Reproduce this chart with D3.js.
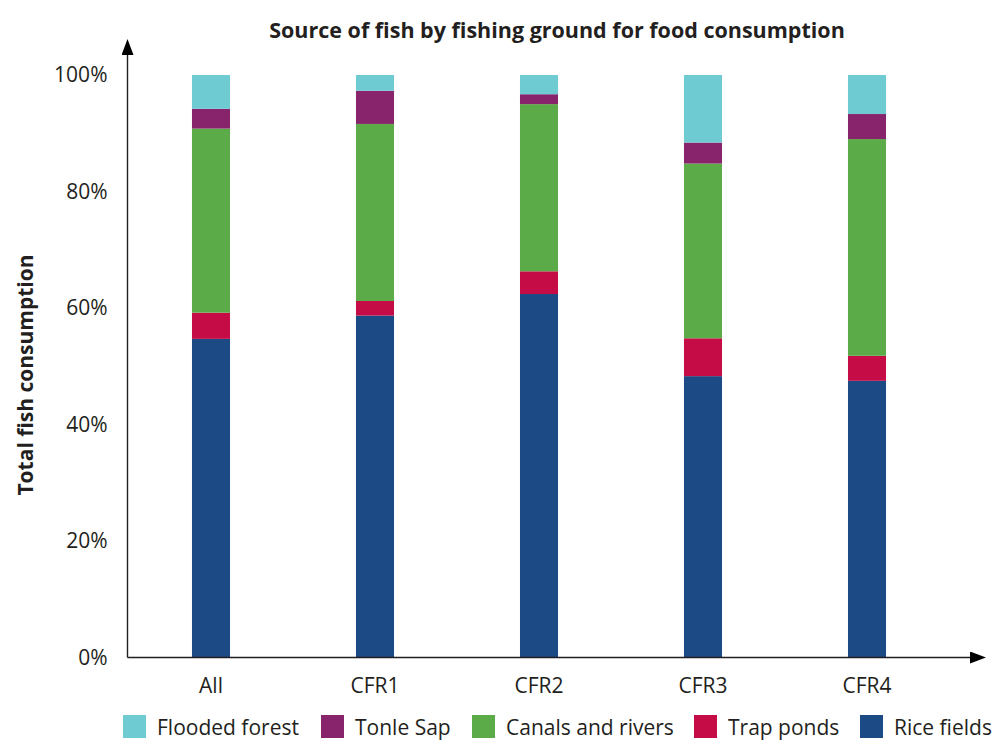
<!DOCTYPE html>
<html>
<head>
<meta charset="utf-8">
<script src="https://cdn.jsdelivr.net/npm/d3@7"></script>
<style>
  html, body { margin: 0; padding: 0; background: #fff; }
  svg text { font-family: "Open Sans", "Noto Sans", sans-serif; fill: #231f20; }
</style>
</head>
<body>
<svg id="chart" width="1001" height="753"></svg>
<script>
// Fishing grounds (x categories) and share of fish consumption per source, in %
const categories = ["All", "CFR1", "CFR2", "CFR3", "CFR4"];
const riceFields     = [54.7, 58.7, 62.4, 48.3, 47.5];
const trapPonds      = [4.5, 2.5, 3.9, 6.5, 4.3];
const canalsRivers   = [31.6, 30.4, 28.7, 30.0, 37.2];
const tonleSap       = [3.4, 5.7, 1.7, 3.6, 4.3];
const floodedForest  = [5.8, 2.7, 3.3, 11.6, 6.7];
const yTicks = [0, 20, 40, 60, 80, 100];

// Series listed bottom-to-top in the stack
const seriesNames = ["Rice fields", "Trap ponds", "Canals and rivers", "Tonle Sap", "Flooded forest"];
const seriesValues = [riceFields, trapPonds, canalsRivers, tonleSap, floodedForest];
const seriesColors = ["#1c4a85", "#c60c46", "#5bab48", "#88246b", "#6ecbd1"];
// Legend reads top series first
const legendOrder = ["Flooded forest", "Tonle Sap", "Canals and rivers", "Trap ponds", "Rice fields"];

const rows = categories.map((c, i) => {
  const r = { category: c };
  seriesNames.forEach((s, k) => { r[s] = seriesValues[k][i]; });
  return r;
});

const svg = d3.select("#chart");
const color = d3.scaleOrdinal().domain(seriesNames).range(seriesColors);

const x = d3.scaleBand()
  .domain(categories)
  .range([129, 949])
  .paddingInner(0.768)
  .paddingOuter(0.384);

const y = d3.scaleLinear().domain([0, 100]).range([657.5, 75]);

const stacked = d3.stack().keys(seriesNames)(rows);

// Bars
svg.append("g")
  .selectAll("g")
  .data(stacked)
  .join("g")
  .attr("fill", d => color(d.key))
  .selectAll("rect")
  .data(d => d)
  .join("rect")
  .attr("x", d => x(d.data.category))
  .attr("width", x.bandwidth())
  .attr("y", d => y(d[1]))
  .attr("height", d => y(d[0]) - y(d[1]));

// Arrowhead marker for both axes
const defs = svg.append("defs");
defs.append("marker")
  .attr("id", "arrow")
  .attr("viewBox", "0 0 16 12")
  .attr("refX", 0)
  .attr("refY", 6)
  .attr("markerWidth", 16)
  .attr("markerHeight", 12)
  .attr("markerUnits", "userSpaceOnUse")
  .attr("orient", "auto")
  .append("path")
  .attr("d", "M0,0 L16,6 L0,12 Z")
  .attr("fill", "#000");

const axisX0 = 127.5;
// Y axis line with arrow
svg.append("line")
  .attr("x1", axisX0).attr("y1", y(0))
  .attr("x2", axisX0).attr("y2", 55)
  .attr("stroke", "#231f20").attr("stroke-width", 1.4)
  .attr("marker-end", "url(#arrow)");
// X axis line with arrow
svg.append("line")
  .attr("x1", axisX0).attr("y1", y(0))
  .attr("x2", 970).attr("y2", y(0))
  .attr("stroke", "#231f20").attr("stroke-width", 1.4)
  .attr("marker-end", "url(#arrow)");

// Y tick labels
const yAxis = svg.append("g")
  .attr("transform", `translate(${axisX0},0)`)
  .call(d3.axisLeft(y).tickValues(yTicks).tickFormat(d => d + "%").tickSize(0).tickPadding(20));
yAxis.select(".domain").remove();
yAxis.selectAll("text")
  .style("font-family", "'Open Sans', sans-serif")
  .style("font-size", "21px")
  .attr("fill", "#231f20");

// X tick labels
const xAxis = svg.append("g")
  .attr("transform", `translate(0,${y(0)})`)
  .call(d3.axisBottom(x).tickSize(0).tickPadding(21));
xAxis.select(".domain").remove();
xAxis.selectAll("text")
  .style("font-family", "'Open Sans', sans-serif")
  .style("font-size", "21px")
  .attr("fill", "#231f20");

// Title
svg.append("text")
  .attr("x", 557)
  .attr("y", 38)
  .attr("text-anchor", "middle")
  .style("font-size", "21.5px")
  .style("font-weight", "bold")
  .text("Source of fish by fishing ground for food consumption");

// Y axis title
svg.append("text")
  .attr("transform", "translate(33,375) rotate(-90)")
  .attr("text-anchor", "middle")
  .style("font-size", "21px")
  .style("font-weight", "bold")
  .text("Total fish consumption");

// Legend
const legendX = [123, 321, 472, 694, 860];
const legend = svg.append("g");
legendOrder.forEach((name, i) => {
  const g = legend.append("g").attr("transform", `translate(${legendX[i]},715)`);
  g.append("rect").attr("width", 23).attr("height", 23).attr("fill", color(name));
  g.append("text")
    .attr("x", 34).attr("y", 20)
    .style("font-size", "21px")
    .text(name);
});
</script>
</body>
</html>
